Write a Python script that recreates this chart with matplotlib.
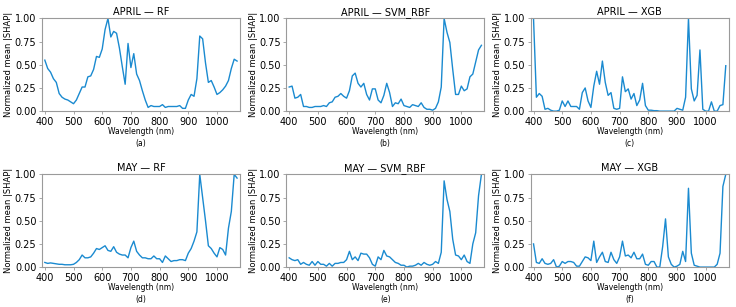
import matplotlib
matplotlib.use("Agg")
import matplotlib.pyplot as plt
import numpy as np

# wavelengths, 400-1070 nm in 10 nm bands
wavelength = list(range(400, 1080, 10))

april_rf = [0.55, 0.46, 0.42, 0.35, 0.31, 0.19, 0.15, 0.13, 0.12, 0.10,
            0.08, 0.12, 0.19, 0.26, 0.26, 0.37, 0.38, 0.45, 0.59, 0.58,
            0.67, 0.88, 1.00, 0.80, 0.86, 0.84, 0.68, 0.48, 0.29, 0.73,
            0.47, 0.62, 0.40, 0.33, 0.22, 0.12, 0.04, 0.06, 0.05, 0.05,
            0.05, 0.07, 0.04, 0.05, 0.05, 0.05, 0.05, 0.06, 0.03, 0.03,
            0.12, 0.18, 0.16, 0.35, 0.81, 0.78, 0.52, 0.31, 0.33, 0.26,
            0.18, 0.20, 0.23, 0.27, 0.33, 0.46, 0.56, 0.54]

april_svm = [0.26, 0.27, 0.14, 0.15, 0.18, 0.05, 0.05, 0.04, 0.04, 0.05,
             0.05, 0.05, 0.06, 0.05, 0.09, 0.10, 0.15, 0.16, 0.19, 0.16,
             0.14, 0.22, 0.38, 0.41, 0.30, 0.26, 0.30, 0.18, 0.12, 0.24,
             0.24, 0.12, 0.09, 0.17, 0.30, 0.20, 0.05, 0.09, 0.08, 0.13,
             0.06, 0.05, 0.04, 0.07, 0.06, 0.05, 0.09, 0.04, 0.02, 0.02,
             0.01, 0.03, 0.10, 0.26, 1.00, 0.85, 0.74, 0.45, 0.18, 0.18,
             0.27, 0.22, 0.24, 0.37, 0.40, 0.53, 0.66, 0.71]

april_xgb = [1.00, 0.15, 0.19, 0.16, 0.02, 0.03, 0.01, 0.00, 0.00, 0.01,
             0.11, 0.05, 0.11, 0.05, 0.05, 0.05, 0.02, 0.20, 0.25, 0.11,
             0.04, 0.27, 0.43, 0.29, 0.54, 0.31, 0.17, 0.20, 0.03, 0.02,
             0.03, 0.37, 0.21, 0.24, 0.13, 0.19, 0.06, 0.12, 0.30, 0.06,
             0.01, 0.01, 0.005, 0.005, 0.0, 0.0, 0.0, 0.0, 0.0, 0.0,
             0.03, 0.02, 0.01, 0.15, 1.00, 0.24, 0.11, 0.17, 0.66, 0.02,
             0.0, 0.0, 0.10, 0.0, 0.0, 0.06, 0.07, 0.49]

may_rf = [0.05, 0.04, 0.045, 0.04, 0.035, 0.03, 0.03, 0.025, 0.025, 0.025,
          0.03, 0.05, 0.08, 0.13, 0.10, 0.10, 0.11, 0.15, 0.20, 0.19,
          0.21, 0.23, 0.18, 0.17, 0.22, 0.16, 0.14, 0.13, 0.13, 0.10,
          0.21, 0.28, 0.17, 0.13, 0.10, 0.10, 0.09, 0.09, 0.12, 0.09,
          0.09, 0.05, 0.12, 0.09, 0.06, 0.07, 0.07, 0.08, 0.08, 0.07,
          0.15, 0.20, 0.28, 0.38, 1.00, 0.75, 0.50, 0.23, 0.20, 0.15,
          0.11, 0.21, 0.19, 0.13, 0.42, 0.60, 1.00, 0.96]

may_svm = [0.10, 0.08, 0.07, 0.08, 0.03, 0.05, 0.03, 0.02, 0.06, 0.02,
           0.06, 0.03, 0.03, 0.01, 0.04, 0.01, 0.04, 0.04, 0.05, 0.05,
           0.08, 0.17, 0.08, 0.11, 0.07, 0.15, 0.14, 0.14, 0.10, 0.03,
           0.01, 0.11, 0.08, 0.18, 0.12, 0.11, 0.08, 0.05, 0.04, 0.02,
           0.02, 0.0, 0.01, 0.01, 0.02, 0.04, 0.02, 0.05, 0.03, 0.02,
           0.03, 0.06, 0.04, 0.16, 0.93, 0.73, 0.60, 0.30, 0.13, 0.12,
           0.08, 0.13, 0.06, 0.04, 0.25, 0.37, 0.77, 1.00]

may_xgb = [0.25, 0.05, 0.04, 0.09, 0.04, 0.03, 0.04, 0.08, 0.0, 0.01,
           0.06, 0.04, 0.06, 0.06, 0.05, 0.01, 0.01, 0.06, 0.11, 0.10,
           0.07, 0.28, 0.05, 0.11, 0.16, 0.06, 0.05, 0.16, 0.08, 0.04,
           0.11, 0.28, 0.12, 0.13, 0.10, 0.16, 0.09, 0.09, 0.14, 0.03,
           0.02, 0.06, 0.06, 0.0, 0.0, 0.22, 0.52, 0.11, 0.03, 0.0,
           0.01, 0.03, 0.17, 0.06, 0.85, 0.15, 0.02, 0.01, 0.0, 0.0,
           0.0, 0.0, 0.0, 0.0, 0.03, 0.15, 0.87, 1.00]

titles = ["APRIL — RF", "APRIL — SVM_RBF", "APRIL — XGB",
          "MAY — RF", "MAY — SVM_RBF", "MAY — XGB"]
panel_tags = ["(a)", "(b)", "(c)", "(d)", "(e)", "(f)"]
series = [april_rf, april_svm, april_xgb, may_rf, may_svm, may_xgb]

LINE = "#1a8ad0"
SPINE = "#9a9a9a"

fig = plt.figure(figsize=(7.36, 3.07), dpi=100)
lefts = [0.057, 0.389, 0.721]
bottoms = [0.638, 0.130]
w, h = 0.269, 0.302
tag_y = [-0.35, -0.345]

for i, (ttl, tag, vals) in enumerate(zip(titles, panel_tags, series)):
    ax = fig.add_axes([lefts[i % 3], bottoms[i // 3], w, h])
    ax.plot(wavelength, vals, color=LINE, lw=1.0)
    ax.set_xlim(390, 1080)
    ax.set_ylim(0, 1.0)
    ax.set_xticks([400, 500, 600, 700, 800, 900, 1000])
    ax.set_yticks([0, 0.25, 0.5, 0.75, 1.0])
    ax.set_yticklabels(["0.00", "0.25", "0.50", "0.75", "1.00"])
    ax.tick_params(labelsize=7, length=2.5, width=0.6, pad=1.5, color=SPINE)
    for s in ax.spines.values():
        s.set_color(SPINE)
        s.set_linewidth(0.8)
    ax.set_title(ttl, fontsize=7, pad=2.5)
    ax.set_xlabel("Wavelength (nm)", fontsize=5.5, labelpad=0.5)
    ax.set_ylabel("Normalized mean |SHAP|", fontsize=6, labelpad=1)
    ax.text(0.5, tag_y[i // 3], tag, transform=ax.transAxes, ha="center",
            va="center", fontsize=5.5)

fig.savefig("out.png", dpi=100)
